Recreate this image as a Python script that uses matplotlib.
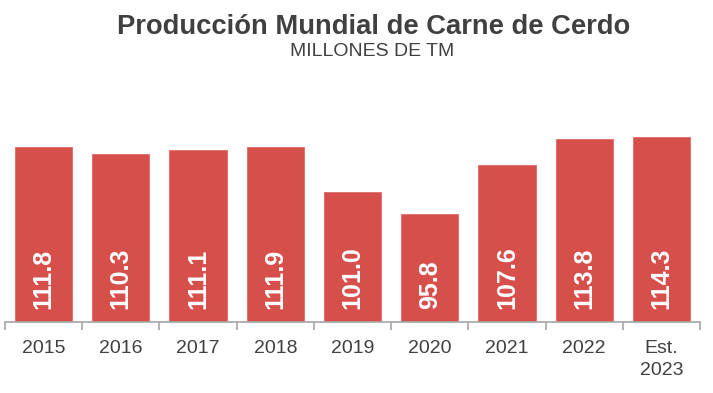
#!/usr/bin/env python3
"""Bar chart: world pork production (million t), 2015 - est. 2023."""

import matplotlib

matplotlib.use("Agg")
import matplotlib.pyplot as plt
import numpy as np

plt.rcParams["font.family"] = ["Liberation Sans", "DejaVu Sans"]

years = ["2015", "2016", "2017", "2018", "2019", "2020", "2021", "2022", "Est.\n2023"]
production = [111.8, 110.3, 111.1, 111.9, 101.0, 95.8, 107.6, 113.8, 114.3]

BAR_COLOR = "#D64F4B"
TEXT_COLOR = "#404040"
Y_MIN, Y_MAX = 70, 120

fig = plt.figure(figsize=(7.13, 3.93), dpi=100)
ax = fig.add_axes([5 / 713, 71 / 393, 695 / 713, 209 / 393])

x = np.arange(len(years))
ax.bar(x, production, width=0.74, color=BAR_COLOR, edgecolor="#E06A66", linewidth=0.6,
       zorder=2)
ax.set_ylim(Y_MIN, Y_MAX)
ax.set_xlim(-0.5, len(years) - 0.5)

for xi, v in zip(x, production):
    ax.text(xi, Y_MIN + 3.0, "%.1f" % v, rotation=90, ha="center", va="bottom",
            color="white", fontsize=18, fontweight="bold", zorder=3)

for side in ("top", "right", "left"):
    ax.spines[side].set_visible(False)
ax.spines["bottom"].set_color("#A6A6A6")
ax.spines["bottom"].set_linewidth(1.2)
ax.yaxis.set_visible(False)

ax.set_xticks(x)
ax.set_xticklabels(years, fontsize=14, color=TEXT_COLOR, linespacing=1.35)
ax.tick_params(axis="x", which="major", length=0, pad=13)
ax.set_xticks(np.arange(len(years) + 1) - 0.5, minor=True)
ax.tick_params(axis="x", which="minor", length=6, width=1.2, color="#A6A6A6")

fig.text(374 / 713, 1 - 33.5 / 393, "Producción Mundial de Carne de Cerdo", ha="center",
         va="baseline", fontsize=19.7, fontweight="bold", color=TEXT_COLOR)
fig.text(372 / 713, 1 - 56.5 / 393, "MILLONES DE TM", ha="center", va="baseline",
         fontsize=14, color=TEXT_COLOR)

fig.savefig("out.png", dpi=100)
